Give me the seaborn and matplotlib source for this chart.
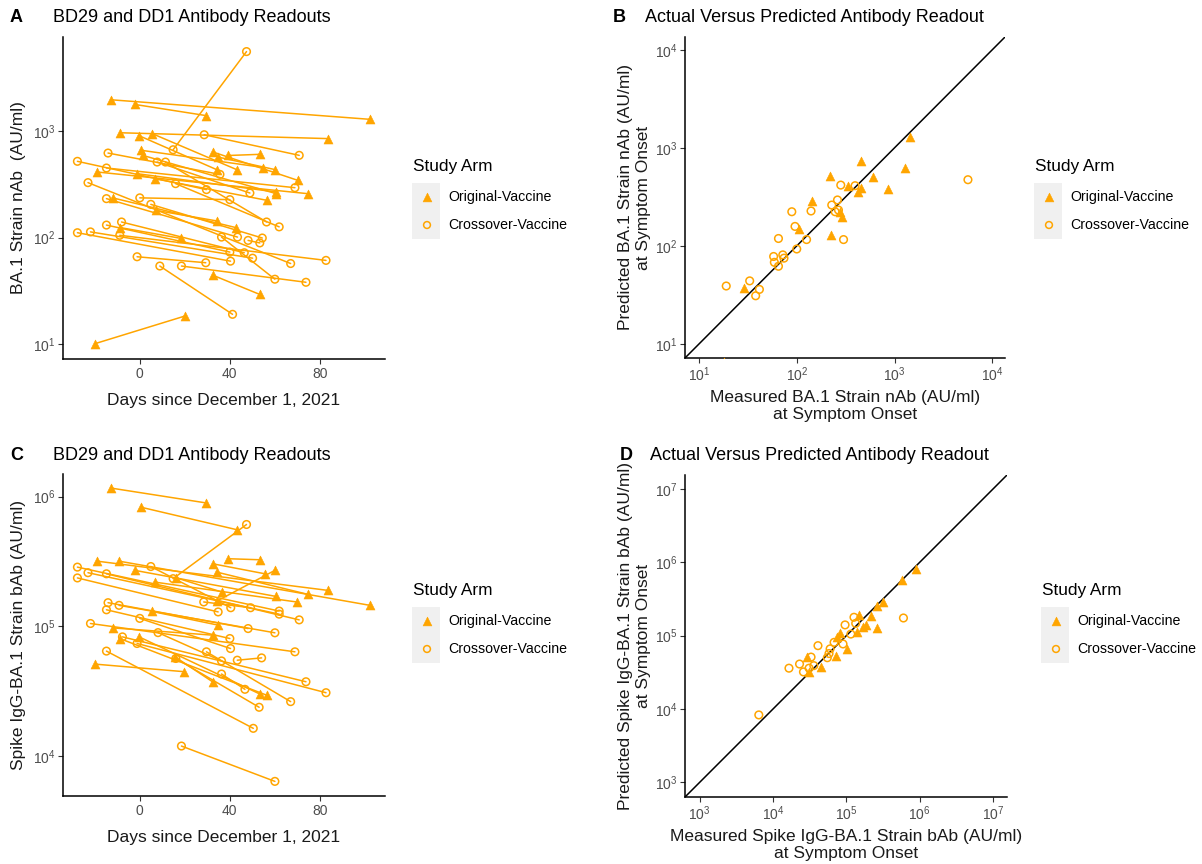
import numpy as np
import pandas as pd
import matplotlib
matplotlib.use("Agg")
import matplotlib.pyplot as plt
import seaborn as sns
from matplotlib.patches import Rectangle
from matplotlib.ticker import NullLocator

# ---------------- data ----------------
ORIG = "Original-Vaccine"
CROSS = "Crossover-Vaccine"

# Panel A: BA.1 nAb, BD29 (day, value) -> DD1 (day, value)
a_arm = [ORIG] * 18 + [CROSS] * 22
a_day_bd29 = [-12.9, -2.2, -8.9, -0.3, 5.6, 0.7, 1.5, 32.6, 34.8, 39.3, -19.0, -1.2, 6.7, -12.1, 7.1, -8.6, 32.3, -19.7,
              14.8, 28.6, -14.1, -27.7, -14.8, 7.7, 11.4, 15.9, -23.0, -14.8, 0.0, 4.9, -14.8, -8.1, -27.7, -21.9, -8.9, -1.2, 8.9, 18.5, 36.3, 48.1]
a_val_bd29 = [1970, 1780, 965, 905, 945, 660, 590, 635, 570, 590, 413, 398, 357, 236, 180, 124, 44.4, 10.1,
              668, 924, 622, 520, 450, 512, 512, 321, 328, 232, 236, 205, 131, 140, 111, 113, 105, 66, 54, 54, 101, 94]
a_day_dd1 = [102.2, 29.3, 83.7, 34.1, 43.0, 54.8, 60.7, 70.1, 60.0, 53.3, 74.8, 60.4, 56.3, 42.7, 34.4, 18.5, 53.3, 20.0,
             47.4, 70.8, 35.6, 29.6, 68.9, 48.9, 56.3, 61.9, 67.0, 43.4, 40.0, 54.4, 40.0, 46.4, 40.3, 50.1, 82.7, 29.3, 41.2, 73.8, 60.0, 53.3]
a_val_dd1 = [1290, 1400, 850, 435, 435, 455, 258, 345, 435, 605, 258, 268, 224, 124, 143, 98, 29.2, 18.3,
             5585, 592, 392, 282, 294, 262, 140, 126, 57, 101, 227, 99, 73, 72, 60, 64, 61, 58, 19, 38, 40.6, 89]

# Panel C: Spike IgG-BA.1 bAb, BD29 -> DD1
c_arm = [ORIG] * 17 + [CROSS] * 21
c_day_bd29 = [-12.9, 0.7, -19.0, -9.2, -2.2, 6.7, 34.1, 32.6, 39.3, 34.4, 16.0, 5.6, -11.9, -8.9, -0.3, -19.7, 15.6,
              14.8, -27.7, -23.0, -27.7, -14.8, 4.9, 28.4, -14.1, -9.2, -14.8, 0.0, -21.9, 8.1, -7.7, -1.2, -14.8, 29.6, 16.0, 43.3, 36.3, 18.5]
c_val_bd29 = [1.166e6, 8.28e5, 3.18e5, 3.18e5, 2.70e5, 2.19e5, 2.62e5, 3.03e5, 3.32e5, 1.57e5, 2.37e5, 1.30e5, 9.71e4, 8.04e4, 8.28e4, 5.1e4, 5.81e4,
              2.33e5, 2.86e5, 2.59e5, 2.36e5, 2.54e5, 2.89e5, 1.54e5, 1.52e5, 1.45e5, 1.34e5, 1.15e5, 1.05e5, 8.93e4, 8.28e4, 7.36e4, 6.43e4, 6.35e4, 5.64e4, 5.47e4, 4.28e4, 1.19e4]
c_day_dd1 = [29.6, 43.3, 83.7, 102.2, 60.4, 69.6, 74.8, 55.6, 53.3, 60.0, 36.3, 34.8, 32.6, 56.3, 53.3, 19.7, 32.3,
             47.4, 61.9, 61.9, 34.8, 70.8, 40.4, 49.2, 48.1, 60.0, 40.0, 40.3, 68.9, 36.3, 73.8, 82.7, 50.4, 67.0, 53.0, 54.1, 46.7, 60.0]
c_val_dd1 = [8.94e5, 5.55e5, 1.89e5, 1.45e5, 1.70e5, 1.54e5, 1.76e5, 2.54e5, 3.26e5, 2.70e5, 1.84e5, 1.02e5, 8.53e4, 2.94e4, 3.0e4, 4.46e4, 3.73e4,
             6.1e5, 1.31e5, 1.24e5, 1.29e5, 1.12e5, 1.39e5, 1.39e5, 9.6e4, 8.9e4, 8.04e4, 6.73e4, 6.35e4, 5.4e4, 3.73e4, 3.07e4, 1.63e4, 2.62e4, 2.37e4, 5.7e4, 3.26e4, 6.35e3]

# Panel B: measured vs predicted BA.1 nAb at symptom onset
b_arm = [ORIG] * 16 + [CROSS] * 23
b_measured = [1426, 456, 219, 1285, 338, 456, 600, 848, 428, 143, 289, 278, 106, 225, 29, 18,
              5636, 282, 395, 261, 228, 267, 247, 89, 140, 96, 126, 301, 65, 100, 58, 72, 59, 65, 74, 19, 33, 41.5, 38]
b_predicted = [1297, 738, 519, 617, 405, 386, 500, 380, 352, 285, 199, 220, 149, 130, 37, 6.5,
               473, 417, 411, 294, 261, 232, 223, 223, 227, 158, 116, 116, 119, 93, 78, 81, 68, 62, 75, 39, 44, 36, 31]

# Panel D: measured vs predicted Spike IgG-BA.1 bAb at symptom onset
d_arm = [ORIG] * 17 + [CROSS] * 18
d_measured = [8.8e5, 5.7e5, 3.2e5, 2.6e5, 2.15e5, 2.65e5, 1.49e5, 1.84e5, 1.71e5, 1.41e5, 8.2e4, 7.5e4, 1.01e5, 7.2e4, 4.5e4, 2.9e4, 3.1e4,
              6.0e5, 1.27e5, 9.6e4, 1.34e5, 1.15e5, 4.1e4, 6.8e4, 9.0e4, 6.0e4, 5.8e4, 5.5e4, 3.3e4, 2.3e4, 1.65e4, 2.6e4, 3.1e4, 3.6e4, 6.4e3]
d_predicted = [8.1e5, 5.7e5, 2.85e5, 2.5e5, 1.87e5, 1.27e5, 1.93e5, 1.41e5, 1.30e5, 1.11e5, 1.08e5, 9.5e4, 6.6e4, 5.2e4, 3.7e4, 5.1e4, 3.2e4,
               1.74e5, 1.78e5, 1.4e5, 1.47e5, 1.05e5, 7.3e4, 8.1e4, 7.7e4, 6.6e4, 5.7e4, 5.0e4, 5.1e4, 4.1e4, 3.6e4, 3.2e4, 3.6e4, 3.9e4, 8.3e3]

# ---------------- style ----------------
sns.set_theme(style="ticks")
plt.rcParams["font.family"] = ["Liberation Sans", "DejaVu Sans"]
plt.rcParams["mathtext.fontset"] = "custom"
plt.rcParams["mathtext.rm"] = "Liberation Sans"
plt.rcParams["mathtext.it"] = "Liberation Sans:italic"
plt.rcParams["mathtext.bf"] = "Liberation Sans:bold"
plt.rcParams["mathtext.default"] = "regular"

ORANGE = "#FFA500"
TICKC = "#4D4D4D"
W, H = 1202, 864

fig = plt.figure(figsize=(W / 100, H / 100), dpi=100)


def rect(l, t, r, b):
    return [l / W, 1 - b / H, (r - l) / W, (b - t) / H]


def sup(n):
    return r"$10^{%d}$" % n


def style_ax(ax):
    for s in ["top", "right"]:
        ax.spines[s].set_visible(False)
    for s in ["left", "bottom"]:
        ax.spines[s].set_color("black")
        ax.spines[s].set_linewidth(1.1)
    ax.tick_params(axis="both", which="major", length=3.5, width=0.8, color="#333333",
                   labelsize=10, labelcolor=TICKC, direction="out", pad=2,
                   bottom=True, left=True)
    ax.xaxis.set_minor_locator(NullLocator())
    ax.yaxis.set_minor_locator(NullLocator())
    ax.grid(False)


def long_df(arm, d0, v0, d1, v1):
    rows = []
    for i in range(len(arm)):
        rows.append(dict(id=i, arm=arm[i], day=d0[i], value=v0[i]))
        rows.append(dict(id=i, arm=arm[i], day=d1[i], value=v1[i]))
    return pd.DataFrame(rows)


def traj_panel(ax, df, ylim, yexp, ylabel):
    ax.set_yscale("log")
    sns.lineplot(data=df, x="day", y="value", units="id", estimator=None, sort=True,
                 color=ORANGE, lw=1.1, ax=ax, legend=False)
    tri = df[df.arm == ORIG]
    cir = df[df.arm == CROSS]
    sns.scatterplot(data=tri, x="day", y="value", marker="^", s=42, color=ORANGE,
                    edgecolor=ORANGE, linewidth=0.4, ax=ax, legend=False, zorder=3)
    sns.scatterplot(data=cir, x="day", y="value", marker="o", s=30, color=ORANGE,
                    facecolor="none", edgecolor=ORANGE, linewidth=1.1, ax=ax, legend=False, zorder=3)
    ax.set_xlim(-34.1, 108.9)
    ax.set_ylim(*ylim)
    ax.set_xticks([0, 40, 80])
    ax.set_xticklabels(["0", "40", "80"])
    ax.set_yticks([10.0 ** e for e in yexp])
    ax.set_yticklabels([sup(e) for e in yexp])
    style_ax(ax)
    ax.set_xlabel("Days since December 1, 2021", fontsize=12.5, color="#1A1A1A", labelpad=9)
    ax.set_ylabel(ylabel, fontsize=12.5, color="#1A1A1A", labelpad=5)


def pred_panel(ax, arm, meas, pred, lim, exps, xlabel, ylabel):
    ax.set_xscale("log")
    ax.set_yscale("log")
    df = pd.DataFrame(dict(arm=arm, measured=meas, predicted=pred))
    ax.plot(lim, lim, color="black", lw=1.1, zorder=2)
    tri = df[df.arm == ORIG]
    cir = df[df.arm == CROSS]
    sns.scatterplot(data=tri, x="measured", y="predicted", marker="^", s=42, color=ORANGE,
                    edgecolor=ORANGE, linewidth=0.4, ax=ax, legend=False, zorder=3)
    sns.scatterplot(data=cir, x="measured", y="predicted", marker="o", s=30, color=ORANGE,
                    facecolor="none", edgecolor=ORANGE, linewidth=1.1, ax=ax, legend=False, zorder=3)
    ax.set_xlim(*lim)
    ax.set_ylim(*lim)
    ticks = [10.0 ** e for e in exps]
    ax.set_xticks(ticks)
    ax.set_xticklabels([sup(e) for e in exps])
    ax.set_yticks(ticks)
    ax.set_yticklabels([sup(e) for e in exps])
    style_ax(ax)
    ax.set_xlabel(xlabel, fontsize=12.5, color="#1A1A1A", labelpad=4, linespacing=1.2)
    ax.set_ylabel(ylabel, fontsize=12.5, color="#1A1A1A", labelpad=3, linespacing=1.2)


axA = fig.add_axes(rect(63, 37, 385, 359))
traj_panel(axA, long_df(a_arm, a_day_bd29, a_val_bd29, a_day_dd1, a_val_dd1),
           (10 ** 0.859, 10 ** 3.884), [1, 2, 3], "BA.1 Strain nAb  (AU/ml)")

axC = fig.add_axes(rect(63, 474, 385, 796))
traj_panel(axC, long_df(c_arm, c_day_bd29, c_val_bd29, c_day_dd1, c_val_dd1),
           (10 ** 3.69, 10 ** 6.175), [4, 5, 6], "Spike IgG-BA.1 Strain bAb (AU/ml)")

axB = fig.add_axes(rect(685, 37, 1005, 358))
pred_panel(axB, b_arm, b_measured, b_predicted, (10 ** 0.857, 10 ** 4.13), [1, 2, 3, 4],
           "Measured BA.1 Strain nAb (AU/ml)\nat Symptom Onset",
           "Predicted BA.1 Strain nAb (AU/ml)\nat Symptom Onset")

axD = fig.add_axes(rect(685, 475, 1007, 797))
pred_panel(axD, d_arm, d_measured, d_predicted, (10 ** 2.8, 10 ** 7.19), [3, 4, 5, 6, 7],
           "Measured Spike IgG-BA.1 Strain bAb (AU/ml)\nat Symptom Onset",
           "Predicted Spike IgG-BA.1 Strain bAb (AU/ml)\nat Symptom Onset")

# ---------------- overlay: panel letters, titles, legends ----------------
ov = fig.add_axes([0, 0, 1, 1])
ov.set_xlim(0, W)
ov.set_ylim(H, 0)
ov.axis("off")
ov.patch.set_alpha(0)

panel_titles = [("A", 10, 53, 17, "BD29 and DD1 Antibody Readouts"),
                ("B", 613, 645, 17, "Actual Versus Predicted Antibody Readout"),
                ("C", 10, 53, 455, "BD29 and DD1 Antibody Readouts"),
                ("D", 620, 650, 455, "Actual Versus Predicted Antibody Readout")]
for letter, lx, tx, ty, title in panel_titles:
    ov.text(lx, ty, letter, fontsize=13, fontweight="bold", ha="left", va="center", color="black")
    ov.text(tx, ty, title, fontsize=13, ha="left", va="center", color="black")


def legend(x, y):
    # x: left of key box, y: vertical center of title
    ov.text(x + 1, y, "Study Arm", fontsize=12.4, ha="left", va="center", color="black")
    ov.add_patch(Rectangle((x, y + 17), 27.5, 56, facecolor="#F0F0F0", edgecolor="none"))
    ov.scatter([x + 15], [y + 31], marker="^", s=40, color=ORANGE, edgecolor=ORANGE, linewidth=0.4)
    ov.scatter([x + 15], [y + 59], marker="o", s=24, facecolor="none", edgecolor=ORANGE, linewidth=1.1)
    ov.text(x + 36, y + 31, ORIG, fontsize=10.2, ha="left", va="center", color="black")
    ov.text(x + 36, y + 59, CROSS, fontsize=10.2, ha="left", va="center", color="black")


legend(412, 166)
legend(1034, 166)
legend(412, 590)
legend(1041, 590)

fig.savefig("out.png", dpi=100)
